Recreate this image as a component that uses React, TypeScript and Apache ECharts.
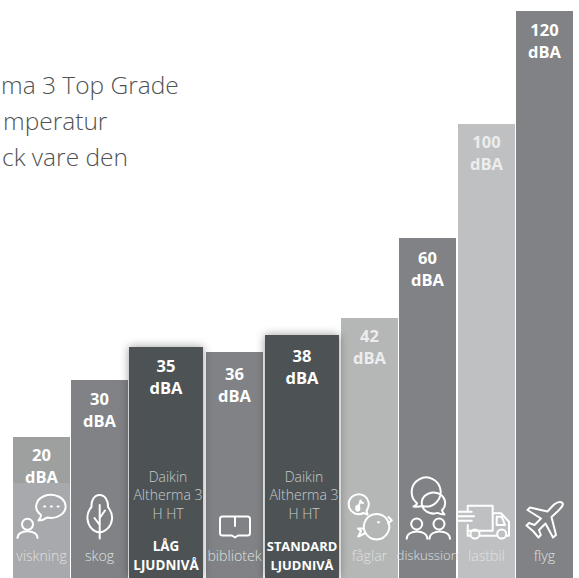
import React, { useEffect, useRef } from "react";
import * as echarts from "echarts";

const categories = ["viskning", "skog", "", "bibliotek", "", "fåglar", "diskussion", "lastbil", "flyg"];
const dbaValues = [20, 30, 35, 36, 38, 42, 60, 100, 120];
const barHeights = [141, 198, 231, 226, 243, 260, 340, 454, 567];
const barStart = [13, 71, 129, 206, 265, 341, 399, 458, 516];
const barEnd = [70, 128, 203, 263, 339, 398, 456, 515, 573];
const barColors = ["#9ea09f", "#808285", "#4d5354", "#808285", "#4d5354", "#b5b7b6", "#808285", "#bfc0c2", "#808285"];
const valueLabelOffsets = [17, 18, 18, 21, 20, 17, 19, 17, 18];
const productLines = ["Daikin", "Altherma 3", "H HT"];
const levelLabels: Record<number, string[]> = { 2: ["LÅG", "LJUDNIVÅ"], 4: ["STANDARD", "LJUDNIVÅ"] };
const introLines = ["ma 3 Top Grade", "mperatur", "ck vare den"];
const introX = [1, 3, 2];
const introY = [84, 120, 156];

const FONT = '"Open Sans", sans-serif';

const iconPaths = [
  // person and speech bubble
  "M41 515A14.7 11.6 0 1 1 47 517.6Q43 520.5 38.5 520.5Q41 518 41 515ZM44.2 506.5h1M50.9 506.5h1M57.6 506.5h1M22 524.3a5.5 5.5 0 1 0 11 0a5.5 5.5 0 1 0 -11 0ZM17.5 538C17.5 529 37.5 529 37.5 538",
  // tree
  "M99.5 495C94 495 91 501 91.5 507C88 511 87 515 87.5 519C88 526 93 532 99.5 532.5C106 532 111.5 526 112 519C112.5 515 111 511 108 507C108.5 501 105 495 99.5 495ZM99.7 505V538.5M99.7 518L105 510.5M99.7 525L94.5 518",
  "",
  // book
  "M222.5 516.5H247.5Q250 516.5 250 519V533Q250 535.5 247.5 535.5H238L235 537.5L232 535.5H222.5Q220 535.5 220 533V519Q220 516.5 222.5 516.5ZM235 517V526",
  "",
  // bird and note
  "M363.5 513A10 10 0 1 1 366.5 510.5L367.5 514.5ZM360.5 500.5L358 508.5M360.5 500.5Q361 503 363 503M356.5 508.3a1.5 1.5 0 1 0 2.5 0a1.5 1.5 0 1 0 -2.5 0ZM376.5 514a12.7 12.7 0 1 0 .1 0ZM378 522.3h1M388.5 517L391.8 520.5L388 523.3M363.5 528.5L358 528.5L361 531L358.3 536.5L364.5 533.5",
  // two people and bubbles
  "M417 503.2A14.5 14.5 0 1 1 422.5 506Q418 507 413.5 506.5Q416.5 505.5 417 503.2ZM442 510.2A11.7 10.5 0 1 0 437.5 512.9Q441 514.5 444.5 514.5Q442.5 512.5 442 510.2ZM411.2 524a5.5 5.5 0 1 0 11 0a5.5 5.5 0 1 0 -11 0ZM433.5 524a5.5 5.5 0 1 0 11 0a5.5 5.5 0 1 0 -11 0ZM406.7 538.7C406.7 529 427.3 529 427.3 538.7M429.5 538.7C429.5 529 450 529 450 538.7",
  // truck
  "M467.7 510V505.7H492.7V530.7H467.7V525M458.3 511.7H471.7M458.3 516.2H474M458.3 520.7H471.7M467.7 530.7V535.7H470.5M479.5 535.7H497M492.7 513.3H501L509 521.7V535.7H506.2M496.7 516.7H501.7L505 525H496.7ZM470.5 534a4.5 4.5 0 1 0 9 0a4.5 4.5 0 1 0 -9 0ZM497.2 534a4.5 4.5 0 1 0 9 0a4.5 4.5 0 1 0 -9 0Z",
  // plane
  "M562.5 503C560 501 556 502.5 553 505.5L547.5 511.5L530 507.5L527.5 510L541 518.5L534.5 525L529 523L526.5 525.5L533 531L538.5 537.5L540.8 535L539 530L545.5 523.5L553 537.5L556 535L551.5 517L557.5 511.5C561 508 564 505 562.5 503Z",
];

const seriesData = dbaValues.map((v, i) => [barStart[i], barEnd[i], barHeights[i], v]);

const renderItem = (params: any, api: any) => {
  const i = params.dataIndex;
  const [x0, yTop] = api.coord([api.value(0), api.value(2)]);
  const [x1, yBottom] = api.coord([api.value(1), 0]);
  const cx = (x0 + x1) / 2;
  const dark = barColors[i] === "#4d5354";
  const z2 = dark ? 20 : 1;
  const children: any[] = [
    {
      type: "rect",
      z2,
      shape: { x: x0, y: yTop, width: x1 - x0, height: yBottom - yTop },
      style: dark
        ? { fill: barColors[i], shadowBlur: 10, shadowColor: "rgba(0,0,0,0.4)" }
        : { fill: barColors[i] },
    },
  ];
  if (i === 0) {
    const yBand = api.coord([0, 95])[1];
    children.push({
      type: "rect",
      z2: z2 + 1,
      shape: { x: x0, y: yBand, width: x1 - x0, height: yBottom - yBand },
      style: { fill: "#a8a9ac" },
    });
  }
  const t = (text: string, x: number, y: number, fill: string, size: number, weight: any) => ({
    type: "text",
    z2: z2 + 2,
    style: {
      text,
      x,
      y,
      fill,
      fontFamily: FONT,
      fontSize: size,
      fontWeight: weight,
      align: "center",
      verticalAlign: "middle",
    },
  });
  const vy = yTop + valueLabelOffsets[i];
  const valueFill = i === 5 || i === 7 ? "#eceded" : "#ffffff";
  children.push(t(String(api.value(3)), cx, vy, valueFill, 16.5, 700));
  children.push(t("dBA", cx, vy + 22, valueFill, 16.5, 700));
  if (categories[i]) {
    children.push(t(categories[i], cx, 555, "#dfe0e1", i === 6 ? 13.2 : 14.2, 300));
  }
  if (levelLabels[i]) {
    productLines.forEach((line, k) =>
      children.push(t(line, cx + 2, 476 + k * 18.5, "#c8caca", 14, 300))
    );
    levelLabels[i].forEach((line, k) =>
      children.push(t(line, cx, 546 + k * 19, "#ffffff", i === 4 ? 12.9 : 13.4, 700))
    );
  }
  if (iconPaths[i]) {
    children.push({
      type: "path",
      z2: z2 + 2,
      shape: { pathData: iconPaths[i] },
      style: { fill: "none", stroke: "#ffffff", lineWidth: 2, lineCap: "round", lineJoin: "round" },
    });
  }
  return { type: "group", children };
};

export default function App() {
  const ref = useRef<HTMLDivElement>(null);
  useEffect(() => {
    const chart = echarts.init(ref.current!, undefined, { renderer: "svg" });
    chart.setOption({
      animation: false,
      backgroundColor: "#ffffff",
      grid: { left: 0, right: 0, top: 0, bottom: 0 },
      xAxis: { type: "value", min: 0, max: 579, show: false },
      yAxis: { type: "value", min: 0, max: 578, show: false },
      graphic: introLines.map((text, i) => ({
        type: "text",
        x: introX[i],
        y: introY[i],
        style: {
          text,
          fill: "#4f5254",
          fontFamily: FONT,
          fontSize: 24.5,
          fontWeight: 300,
          verticalAlign: "middle",
        },
      })),
      series: [
        {
          type: "custom",
          coordinateSystem: "cartesian2d",
          data: seriesData,
          encode: { x: [0, 1], y: 2 },
          clip: false,
          renderItem,
        },
      ],
    });
    return () => chart.dispose();
  }, []);
  return (
    <div
      ref={ref}
      style={{ position: "absolute", left: 0, top: 0, width: 579, height: 578, overflow: "hidden" }}
    />
  );
}
